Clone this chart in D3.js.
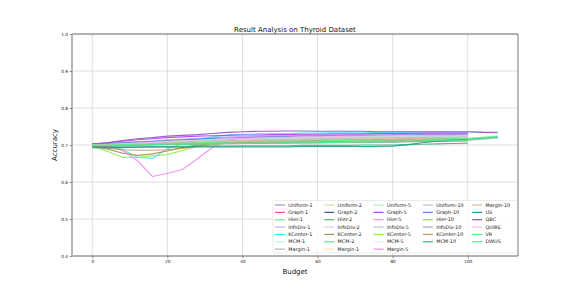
<!DOCTYPE html>
<html><head><meta charset="utf-8">
<script src="https://cdn.jsdelivr.net/npm/d3@7"></script>
<style>body{margin:0;background:#fff}svg{display:block;font-family:"DejaVu Sans",sans-serif}</style>
</head><body><svg id="c" width="576" height="288"></svg>
<script>
const budgets = [0,4,8,12,16,20,24,28,32,36,40,44,48,52,56,60,64,68,72,76,80,84,88,92,96,100,104,108];
const seriesNames = ["Uniform-1","Graph-1","Hier-1","InfoDiv-1","KCenter-1","MCM-1","Margin-1",
 "Uniform-2","Graph-2","Hier-2","InfoDiv-2","KCenter-2","MCM-2","Margin-1",
 "Uniform-5","Graph-5","Hier-5","InfoDiv-5","KCenter-5","MCM-5","Margin-5",
 "Uniform-10","Graph-10","Hier-10","InfoDiv-10","KCenter-10","MCM-10",
 "Margin-10","US","QBC","QUIRE","VR","DWUS"];
const seriesColors = ["#9d94c6","#ff4a8d","#6fe89c","#c4acf2","#45e6f5","#b9f5cd","#b3b3b3",
 "#dcdca8","#3f4fa0","#5fb06f","#cbd8e8","#a3924f","#55e8a2","#ffe2b4",
 "#a9f7b9","#b044f0","#f293d2","#b2c9b9","#84f052","#e2f8e8","#ee88ee",
 "#c2bad9","#6182e0","#92d163","#a9a9c9","#c29a62","#40b07f",
 "#d9b9a0","#1f9e8f","#8f4fc0","#f2b4f2","#62f082","#52e293"];
const legendColumns = [7,7,7,6,6];
const uniform1 = [0.701,0.702,0.704,0.706,0.708,0.709,0.711,0.712,0.714,0.716,0.717,0.718,0.719,0.719,0.720,0.721,0.721,0.722,0.722,0.723,0.723,0.724,0.724,0.725,0.725,0.726];
const graph1 = [0.699,0.699,0.700,0.701,0.702,0.704,0.705,0.706,0.707,0.708,0.709,0.710,0.710,0.711,0.712,0.712,0.713,0.713,0.714,0.714,0.715,0.715,0.716,0.716,0.717,0.717];
const hier1 = [0.700,0.700,0.701,0.702,0.703,0.703,0.704,0.705,0.706,0.706,0.707,0.708,0.708,0.709,0.709,0.710,0.710,0.711,0.711,0.712,0.712,0.713,0.713,0.713,0.714,0.714];
const infodiv1 = [0.703,0.705,0.707,0.709,0.711,0.714,0.716,0.718,0.720,0.722,0.723,0.724,0.725,0.725,0.726,0.727,0.727,0.728,0.728,0.729,0.729,0.730,0.730,0.730,0.731,0.731];
const kcenter1 = [0.704,0.700,0.688,0.667,0.664,0.690,0.703,0.715,0.722,0.727,0.729,0.730,0.731,0.731,0.732,0.732,0.733,0.733,0.733,0.734,0.734,0.734,0.735,0.735,0.735,0.735,0.735,0.735];
const mcm1 = [0.702,0.703,0.704,0.705,0.707,0.708,0.709,0.711,0.712,0.713,0.714,0.715,0.716,0.717,0.718,0.718,0.719,0.720,0.720,0.721,0.721,0.722,0.722,0.723,0.723,0.723];
const margin1 = [0.696,0.697,0.698,0.699,0.700,0.701,0.702,0.702,0.703,0.703,0.704,0.704,0.704,0.705,0.705,0.705,0.706,0.706,0.706,0.707,0.707,0.708,0.709,0.710,0.711,0.712,0.716,0.719];
const uniform2 = [0.698,0.699,0.700,0.702,0.704,0.706,0.708,0.710,0.712,0.713,0.714,0.715,0.716,0.716,0.717,0.718,0.718,0.719,0.719,0.720,0.720,0.721,0.721,0.722,0.722,0.722];
const graph2 = [0.702,0.703,0.704,0.705,0.706,0.707,0.708,0.709,0.710,0.711,0.712,0.713,0.713,0.714,0.715,0.715,0.716,0.716,0.717,0.717,0.718,0.718,0.719,0.719,0.720,0.720];
const hier2 = [0.697,0.698,0.699,0.700,0.701,0.702,0.702,0.703,0.704,0.704,0.705,0.705,0.706,0.706,0.707,0.707,0.708,0.708,0.708,0.709,0.709,0.710,0.710,0.710,0.711,0.711];
const infodiv2 = [0.700,0.701,0.702,0.704,0.706,0.708,0.710,0.712,0.713,0.715,0.716,0.717,0.718,0.719,0.719,0.720,0.721,0.721,0.722,0.722,0.723,0.723,0.724,0.724,0.725,0.725];
const kcenter2 = [0.697,0.689,0.678,0.672,0.676,0.684,0.693,0.700,0.705,0.708,0.710,0.712,0.713,0.714,0.715,0.716,0.716,0.717,0.717,0.718,0.718,0.719,0.719,0.720,0.720,0.720];
const mcm2 = [0.701,0.702,0.703,0.704,0.705,0.706,0.707,0.708,0.709,0.710,0.711,0.711,0.712,0.712,0.713,0.713,0.714,0.714,0.715,0.715,0.716,0.716,0.716,0.717,0.717,0.717];
const margin1b = [0.699,0.700,0.701,0.702,0.703,0.705,0.706,0.707,0.708,0.709,0.710,0.710,0.711,0.712,0.712,0.713,0.713,0.714,0.714,0.715,0.715,0.715,0.716,0.716,0.716,0.717];
const uniform5 = [0.700,0.701,0.703,0.705,0.707,0.709,0.711,0.713,0.715,0.716,0.717,0.718,0.719,0.720,0.721,0.721,0.722,0.723,0.723,0.724,0.724,0.725,0.725,0.726,0.726,0.726];
const graph5 = [0.703,0.706,0.710,0.714,0.717,0.720,0.722,0.724,0.725,0.726,0.727,0.727,0.728,0.728,0.729,0.729,0.730,0.730,0.730,0.731,0.731,0.731,0.732,0.732,0.732,0.732];
const hier5 = [0.698,0.699,0.700,0.701,0.702,0.703,0.704,0.705,0.706,0.707,0.708,0.709,0.709,0.710,0.711,0.711,0.712,0.712,0.713,0.713,0.714,0.714,0.715,0.715,0.716,0.716];
const infodiv5 = [0.699,0.700,0.701,0.702,0.704,0.705,0.706,0.707,0.708,0.709,0.710,0.711,0.712,0.712,0.713,0.714,0.714,0.715,0.715,0.716,0.716,0.717,0.717,0.718,0.718,0.718];
const kcenter5 = [0.697,0.683,0.667,0.667,0.671,0.674,0.685,0.696,0.701,0.704,0.706,0.708,0.709,0.710,0.711,0.712,0.712,0.713,0.713,0.714,0.714,0.715,0.715,0.716,0.716,0.716];
const mcm5 = [0.701,0.702,0.703,0.704,0.706,0.707,0.708,0.709,0.710,0.711,0.712,0.713,0.714,0.714,0.715,0.716,0.716,0.717,0.717,0.718,0.718,0.719,0.719,0.719,0.720,0.720];
const margin5 = [0.700,0.696,0.686,0.658,0.615,0.623,0.634,0.663,0.693,0.713,0.720,0.722,0.723,0.724,0.725,0.725,0.726,0.726,0.727,0.727,0.727,0.728,0.728,0.728,0.728,0.729];
const uniform10 = [0.700,0.701,0.702,0.704,0.705,0.707,0.708,0.710,0.711,0.712,0.713,0.714,0.715,0.716,0.716,0.717,0.718,0.718,0.719,0.719,0.720,0.720,0.721,0.721,0.721,0.722];
const graph10 = [0.702,0.704,0.706,0.708,0.710,0.712,0.714,0.716,0.718,0.719,0.720,0.721,0.722,0.723,0.724,0.724,0.725,0.725,0.726,0.726,0.727,0.727,0.728,0.728,0.728,0.729];
const hier10 = [0.699,0.700,0.700,0.701,0.702,0.703,0.703,0.704,0.705,0.705,0.706,0.707,0.707,0.708,0.708,0.709,0.709,0.710,0.710,0.711,0.711,0.711,0.712,0.712,0.713,0.713];
const infodiv10 = [0.698,0.699,0.700,0.701,0.702,0.703,0.704,0.705,0.706,0.707,0.707,0.708,0.709,0.709,0.710,0.711,0.711,0.712,0.712,0.713,0.713,0.714,0.714,0.715,0.715,0.716];
const kcenter10 = [0.699,0.691,0.687,0.686,0.686,0.687,0.691,0.697,0.702,0.705,0.707,0.709,0.710,0.711,0.712,0.713,0.713,0.714,0.714,0.715,0.715,0.716,0.716,0.716,0.717,0.717];
const mcm10 = [0.695,0.695,0.695,0.695,0.696,0.696,0.696,0.697,0.697,0.697,0.698,0.698,0.698,0.698,0.699,0.699,0.699,0.699,0.700,0.700,0.700,0.701,0.702,0.703,0.704,0.705];
const margin10 = [0.700,0.701,0.702,0.703,0.705,0.706,0.707,0.708,0.709,0.710,0.711,0.712,0.713,0.713,0.714,0.715,0.715,0.716,0.716,0.717,0.717,0.718,0.718,0.719,0.719,0.719];
const us = [0.693,0.693,0.693,0.694,0.694,0.694,0.694,0.695,0.695,0.695,0.695,0.695,0.695,0.695,0.696,0.696,0.696,0.696,0.696,0.696,0.697,0.701,0.706,0.710,0.713,0.716,0.719,0.721];
const qbc = [0.701,0.706,0.712,0.717,0.720,0.724,0.726,0.728,0.731,0.734,0.736,0.737,0.737,0.738,0.738,0.737,0.737,0.737,0.737,0.736,0.736,0.736,0.736,0.736,0.736,0.736,0.734,0.733];
const quire = [0.701,0.702,0.703,0.705,0.707,0.709,0.711,0.713,0.715,0.717,0.718,0.719,0.720,0.721,0.722,0.722,0.723,0.724,0.724,0.725,0.725,0.726,0.726,0.727,0.727,0.727];
const vr = [0.700,0.700,0.701,0.702,0.703,0.704,0.705,0.706,0.707,0.708,0.708,0.709,0.710,0.710,0.711,0.711,0.712,0.712,0.713,0.713,0.714,0.714,0.715,0.716,0.717,0.718,0.721,0.724];
const dwus = [0.699,0.699,0.700,0.700,0.701,0.702,0.702,0.703,0.703,0.704,0.704,0.705,0.705,0.706,0.706,0.707,0.707,0.708,0.708,0.709,0.709,0.710,0.711,0.712,0.713,0.714,0.718,0.722];
const seriesValues = [uniform1,graph1,hier1,infodiv1,kcenter1,mcm1,margin1,
 uniform2,graph2,hier2,infodiv2,kcenter2,mcm2,margin1b,
 uniform5,graph5,hier5,infodiv5,kcenter5,mcm5,margin5,
 uniform10,graph10,hier10,infodiv10,kcenter10,mcm10,
 margin10,us,qbc,quire,vr,dwus];
const xTicks = [0,20,40,60,80,100];
const yTicks = [0.4,0.5,0.6,0.7,0.8,0.9,1.0];
const titleText = "Result Analysis on Thyroid Dataset";
const xLabel = "Budget", yLabel = "Accuracy";

const svg = d3.select("#c");
const L = 72, R = 518, T = 34, B = 256;
const x = d3.scaleLinear().domain([-5.4, 113.4]).range([L, R]);
const y = d3.scaleLinear().domain([0.4, 1.0]).range([B, T]);

// grid
svg.append("g").selectAll("line").data(xTicks).join("line")
  .attr("x1", d => x(d)).attr("x2", d => x(d)).attr("y1", T).attr("y2", B)
  .attr("stroke", "#d6d6d6").attr("stroke-width", 0.8);
svg.append("g").selectAll("line").data(yTicks).join("line")
  .attr("x1", L).attr("x2", R).attr("y1", d => y(d)).attr("y2", d => y(d))
  .attr("stroke", "#d6d6d6").attr("stroke-width", 0.8);

// lines
const line = d3.line().x(d => x(d[0])).y(d => y(d[1]));
const g = svg.append("g");
seriesValues.forEach((vals, i) => {
  const pts = vals.map((v, j) => [budgets[j], v]);
  g.append("path").attr("d", line(pts)).attr("fill", "none")
    .attr("stroke", seriesColors[i]).attr("stroke-width", 1.1).attr("stroke-opacity", 0.9);
});

// spines
svg.append("line").attr("x1", L).attr("x2", R).attr("y1", T).attr("y2", T).attr("stroke", "#555").attr("stroke-width", 0.8);
svg.append("line").attr("x1", R).attr("x2", R).attr("y1", T).attr("y2", B).attr("stroke", "#555").attr("stroke-width", 0.8);
svg.append("line").attr("x1", L).attr("x2", R).attr("y1", B).attr("y2", B).attr("stroke", "#555").attr("stroke-width", 0.8);
svg.append("line").attr("x1", L).attr("x2", L).attr("y1", T).attr("y2", B).attr("stroke", "#b5b5b5").attr("stroke-width", 2);

// axes
const xAxis = svg.append("g").attr("transform", `translate(0,${B})`)
  .call(d3.axisBottom(x).tickValues(xTicks).tickFormat(d3.format("d")).tickSize(2.5).tickPadding(1.5));
xAxis.select(".domain").remove();
xAxis.selectAll("line").attr("stroke", "#555").attr("stroke-width", 0.6);
xAxis.selectAll("text").attr("font-size", 4.3).attr("fill", "#222").attr("font-family", "DejaVu Sans");
const yAxis = svg.append("g").attr("transform", `translate(${L},0)`)
  .call(d3.axisLeft(y).tickValues(yTicks).tickFormat(d3.format(".1f")).tickSize(2.5).tickPadding(1.5));
yAxis.select(".domain").remove();
yAxis.selectAll("line").attr("stroke", "#555").attr("stroke-width", 0.6);
yAxis.selectAll("text").attr("font-size", 4.3).attr("fill", "#222").attr("font-family", "DejaVu Sans");

// labels
svg.append("text").attr("x", (L + R) / 2).attr("y", 31.5).attr("text-anchor", "middle")
  .attr("font-size", 7).attr("fill", "#111").text(titleText);
svg.append("text").attr("x", (L + R) / 2).attr("y", 274).attr("text-anchor", "middle")
  .attr("font-size", 7).attr("fill", "#111").text(xLabel);
svg.append("text").attr("transform", `translate(57,${(T + B) / 2}) rotate(-90)`).attr("text-anchor", "middle")
  .attr("font-size", 7).attr("fill", "#111").text(yLabel);

// legend
const lg = svg.append("g");
lg.append("rect").attr("x", 273).attr("y", 200.5).attr("width", 244).attr("height", 52.5)
  .attr("rx", 1.5).attr("fill", "#fff").attr("fill-opacity", 0.85).attr("stroke", "#dddddd").attr("stroke-width", 0.6);
const colW = 49.3, rowH = 7.35;
let idx = 0;
legendColumns.forEach((count, c) => {
  for (let r = 0; r < count; r++, idx++) {
    const lx = 275 + c * colW, ly = 205 + r * rowH;
    lg.append("line").attr("x1", lx).attr("x2", lx + 10).attr("y1", ly).attr("y2", ly)
      .attr("stroke", seriesColors[idx]).attr("stroke-width", 1.2);
    lg.append("text").attr("x", lx + 13.3).attr("y", ly).attr("dy", "0.35em")
      .attr("font-size", 4.9).attr("fill", "#222").text(seriesNames[idx]);
  }
});
</script></body></html>
